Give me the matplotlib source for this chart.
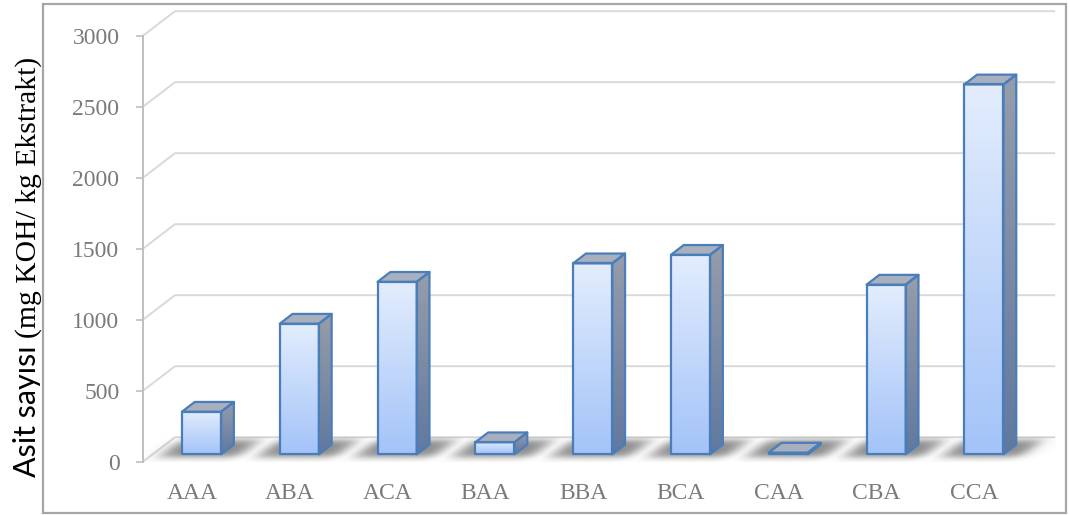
import numpy as np
import matplotlib
matplotlib.use("Agg")
import matplotlib.pyplot as plt
from matplotlib.patches import Polygon, Rectangle

# ---- data -------------------------------------------------------------
categories = ["AAA", "ABA", "ACA", "BAA", "BBA", "BCA", "CAA", "CBA", "CCA"]
acid_values = [300, 920, 1215, 85, 1345, 1405, 12, 1195, 2605]
y_ticks = [0, 500, 1000, 1500, 2000, 2500, 3000]
y_label_main = "Asit sayısı "
y_label_unit = "(mg KOH/ kg Ekstrakt)"

# ---- figure / pseudo-3D geometry --------------------------------------
W, H, DPI = 1070, 515, 100
fig = plt.figure(figsize=(W / DPI, H / DPI), dpi=DPI)

X0_PX, Y0_PX = 143.0, 461.7      # front-left corner of the floor (value 0)
SLOT_PX = 97.8                   # width of one category slot
UNIT_PX = 426.0 / 3000.0         # pixels per value unit
BACK_DX_PX, BACK_DY_PX = 32.0, 24.5

BX = BACK_DX_PX / SLOT_PX        # depth shift in category units
BY = BACK_DY_PX / UNIT_PX        # depth shift in value units
YMAX = 3000

xlim = (-0.5, len(categories) - 0.5 + BX)
ylim = (0, YMAX + BY)
right_px = X0_PX + (xlim[1] - xlim[0]) * SLOT_PX
top_px = Y0_PX - (ylim[1] - ylim[0]) * UNIT_PX
ax = fig.add_axes([X0_PX / W, (H - Y0_PX) / H,
                   (right_px - X0_PX) / W, (Y0_PX - top_px) / H])
ax.set_autoscale_on(False)
ax.set_xlim(*xlim)
ax.set_ylim(*ylim)
ax.patch.set_visible(False)
for side in ("top", "right", "bottom"):
    ax.spines[side].set_visible(False)

GRID_C = "#d9d9d9"
AXIS_C = "#bfbfbf"
TEXT_C = "#7a7a7a"
EDGE_C = "#4a7ebb"
SERIF = ["Liberation Serif", "DejaVu Serif"]
TICK_FS = 17

# back wall / side wall gridlines
for t in y_ticks:
    ax.plot([xlim[0], xlim[0] + BX, xlim[1]], [t, t + BY, t + BY],
            color=GRID_C, lw=1.4, zorder=1, solid_capstyle="butt", clip_on=False)

# value axis
ax.spines["left"].set_bounds(0, YMAX)
ax.spines["left"].set_color(AXIS_C)
ax.spines["left"].set_linewidth(1.4)
ax.set_yticks(y_ticks)
ax.set_yticklabels([str(t) for t in y_ticks], fontfamily=SERIF,
                   fontsize=TICK_FS, color=TEXT_C)
ax.tick_params(axis="y", direction="out", length=5, width=1.2,
               color=AXIS_C, pad=12)
ax.set_xticks([])

# category labels under the floor
for i, name in enumerate(categories):
    ax.annotate(name, xy=(i, 0), xytext=(0, -37.5 * 0.72),
                textcoords="offset points", ha="center", va="baseline",
                fontfamily=SERIF, fontsize=TICK_FS, color=TEXT_C,
                annotation_clip=False)

# ---- floor shadows ----------------------------------------------------
BAR_W = 0.40
D0, DD = 0.30, 0.40          # depth of front face, depth of bar


def sig(z):
    return 1.0 / (1.0 + np.exp(-z))


gx = np.linspace(xlim[0], xlim[1], 1800)
gy = np.linspace(0, BY, 160)
GX, GY = np.meshgrid(gx, gy)
depth = GY / BY
u = GX - depth * BX
alpha = np.zeros_like(GX)
for i in range(len(categories)):
    du = u - i
    a = (sig((du + 0.40) / 0.05) * sig((0.40 - du) / 0.05)
         * sig((depth - 0.20) / 0.08) * sig((0.88 - depth) / 0.08))
    alpha = np.maximum(alpha, a)
shadow = np.zeros(GX.shape + (4,))
shadow[..., :3] = 0.22
shadow[..., 3] = 0.6 * alpha
ax.imshow(shadow, extent=[xlim[0], xlim[1], 0, BY], origin="lower",
          aspect="auto", interpolation="bilinear", zorder=2)


# ---- bars ---------------------------------------------------------------
def gradient(c_top, c_bot, n=256):
    t = np.linspace(0, 1, n)[:, None]
    a = np.array(matplotlib.colors.to_rgb(c_top))
    b = np.array(matplotlib.colors.to_rgb(c_bot))
    return (a * (1 - t) + b * t)[:, None, :]


FRONT_TOP, FRONT_BOT = "#e3edfd", "#a3c3f8"
SIDE_TOP, SIDE_BOT = "#979daa", "#61789f"
TOP_C = "#a8b0be"

ox, oy = DD * BX, DD * BY
for i, v in enumerate(acid_values):
    xl = i - BAR_W / 2 + D0 * BX
    xr = xl + BAR_W
    yb = D0 * BY
    yt = yb + v

    side = Polygon([(xr, yb), (xr + ox, yb + oy), (xr + ox, yt + oy), (xr, yt)],
                   closed=True, facecolor="none", edgecolor="none", zorder=3)
    ax.add_patch(side)
    im = ax.imshow(gradient(SIDE_TOP, SIDE_BOT), extent=[xr, xr + ox, yb, yt + oy],
                   aspect="auto", interpolation="bilinear", zorder=3)
    im.set_clip_path(side)

    top = Polygon([(xl, yt), (xl + ox, yt + oy), (xr + ox, yt + oy), (xr, yt)],
                  closed=True, facecolor=TOP_C, edgecolor="none", zorder=3)
    ax.add_patch(top)

    front = Rectangle((xl, yb), BAR_W, v, facecolor="none", edgecolor="none",
                      zorder=4)
    ax.add_patch(front)
    im = ax.imshow(gradient(FRONT_TOP, FRONT_BOT), extent=[xl, xr, yb, yt],
                   aspect="auto", interpolation="bilinear", zorder=4)
    im.set_clip_path(front)

    for poly in (
        [(xr, yb), (xr + ox, yb + oy), (xr + ox, yt + oy), (xr, yt)],
        [(xl, yt), (xl + ox, yt + oy), (xr + ox, yt + oy), (xr, yt)],
        [(xl, yb), (xr, yb), (xr, yt), (xl, yt)],
    ):
        ax.add_patch(Polygon(poly, closed=True, fill=False, edgecolor=EDGE_C,
                             lw=1.6, joinstyle="round", zorder=5))

ax.set_xlim(*xlim)
ax.set_ylim(*ylim)

# ---- axis title (sans part + serif part) ------------------------------
LABEL_X_PX, LABEL_Y0_PX, LABEL_Y1_PX = 36.0, 477.0, 58.0
t1 = fig.text(LABEL_X_PX / W, (H - LABEL_Y0_PX) / H, y_label_main,
              rotation=90, rotation_mode="anchor", ha="left", va="baseline",
              fontfamily=["Lato", "DejaVu Sans"], fontsize=22, color="black")
fig.canvas.draw()
bb = t1.get_window_extent()
unit_fs = 22.0
t2 = fig.text(LABEL_X_PX / W, bb.y1 / H, y_label_unit,
              rotation=90, rotation_mode="anchor", ha="left", va="baseline",
              fontfamily=SERIF, fontsize=unit_fs, color="black")
fig.canvas.draw()
span = t2.get_window_extent().height
unit_fs *= ((H - LABEL_Y1_PX) - bb.y1) / span
t2.set_fontsize(unit_fs)

# ---- outer frame --------------------------------------------------------
fig.patches.append(Rectangle((43 / W, (H - 513) / H), (1066 - 43) / W,
                             (513 - 4) / H, transform=fig.transFigure,
                             fill=False, edgecolor="#a6a6a6", lw=1.6))

fig.savefig("out.png", dpi=DPI)
